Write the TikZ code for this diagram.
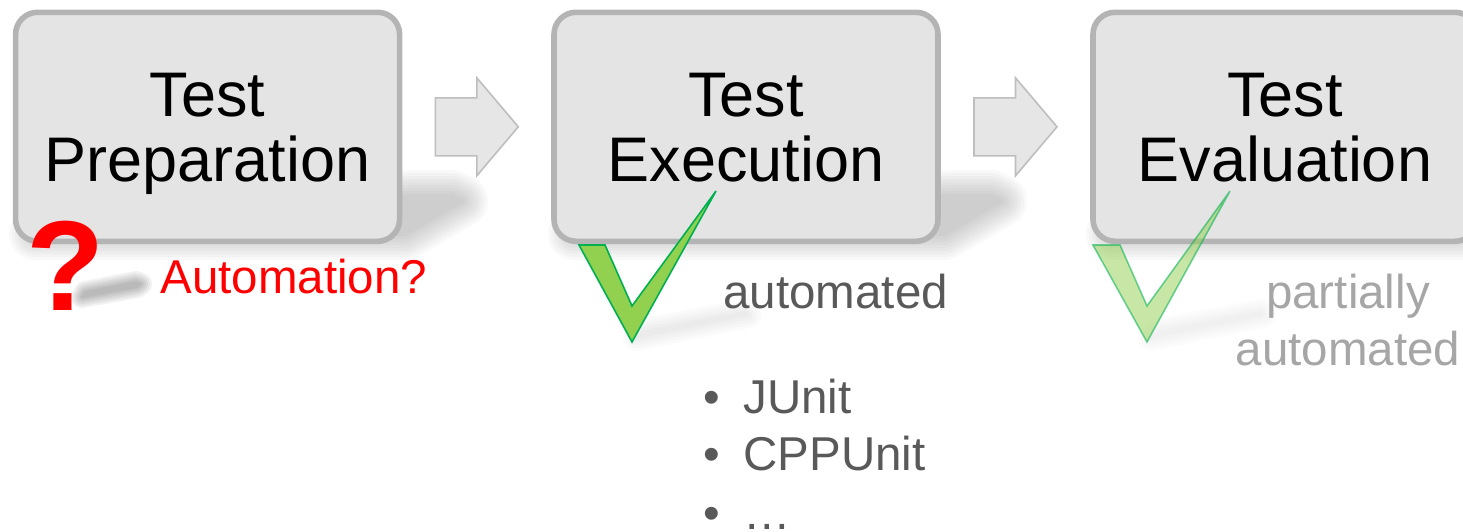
\documentclass[tikz,border=0pt]{standalone}
\usepackage{fontspec}
\setmainfont{Liberation Sans}
\usetikzlibrary{calc}

\definecolor{boxfill}{HTML}{E4E4E4}
\definecolor{boxline}{HTML}{B4B4B4}
\definecolor{arrowfill}{HTML}{E6E6E6}
\definecolor{arrowline}{HTML}{BEBEBE}
\definecolor{darktext}{HTML}{595959}
\definecolor{lighttext}{HTML}{A6A6A6}
\definecolor{checkfill}{HTML}{92D050}
\definecolor{checkline}{HTML}{00B050}

% soft cast shadow: the outline grown by several widths, each layer
% painted as one faint group so the edges fade out smoothly
\newcommand\softshadow[3][0.035]{%
  \foreach \w in {#2} {
    \begin{scope}[transparency group, opacity=#1]
      \filldraw[black, line width=\w pt, line join=round] #3;
    \end{scope}
  }%
}

\begin{document}
\begin{tikzpicture}[x=0.5pt,y=-0.5pt,
  stage/.style={draw=boxline, fill=boxfill, line width=2.8pt,
    rounded corners=11pt, minimum width=192pt, minimum height=114.5pt,
    inner sep=0pt},
  stagetext/.style={anchor=base, inner sep=0pt,
    font=\fontsize{31.5}{32}\selectfont},
  notetext/.style={inner sep=0pt, font=\fontsize{23.75}{28.5}\selectfont},
  blockarrow/.style={fill=arrowfill, draw=arrowline, line width=0.8pt,
    line join=miter},
  tick/.style={fill=checkfill, draw=checkline, line width=0.8pt,
    line join=miter}]

\useasboundingbox (0,0) rectangle (1463,531);
\clip (0,0) rectangle (1463,531);

% shadows cast by the stage boxes
\softshadow[0.022]{26,23,20,17,14,11,8,5,2}{(100,198) -- (452,196) -- (462,201) -- (405,234) -- (35,234) -- cycle}
\softshadow[0.022]{26,23,20,17,14,11,8,5,2}{(639,198) -- (991,196) -- (1001,201) -- (944,234) -- (574,234) -- cycle}
\softshadow[0.022]{26,23,20,17,14,11,8,5,2}{(1177,198) -- (1529,196) -- (1539,201) -- (1482,234) -- (1112,234) -- cycle}

% shadows of the question mark and of the ticks
\softshadow[0.05]{11,9,7,5,3,1}{(82,297) -- (85,292) -- (136,282) -- (141,284) -- (137,287) -- cycle}
\softshadow[0.016]{13,10,7,4,1}{(636,338) -- (644,331) -- (745,312) -- (748,315) -- cycle}
\softshadow[0.012]{13,10,7,4,1}{(1151,338) -- (1159,331) -- (1260,312) -- (1263,315) -- cycle}

% the three stages
\node[stage] (b1) at (207.6,126.8) {};
\node[stage] (b2) at (746,126.8) {};
\node[stage] (b3) at (1285,126.8) {};

\node[stagetext] (t1a) at (207.6,116) {Test};
\node[stagetext] (t1b) at (207.6,181) {Preparation};
\node[stagetext] (t2a) at (746,116) {Test};
\node[stagetext] (t2b) at (746,181) {Execution};
\node[stagetext] (t3a) at (1285,116) {Test};
\node[stagetext] (t3b) at (1285,181) {Evaluation};

% block arrows between the stages
\coordinate (m1) at ($(b1.east)!0.5!(b2.west)$);
\coordinate (m2) at ($(b2.east)!0.5!(b3.west)$);
\foreach \m in {m1,m2} {
  \draw[blockarrow] ($(\m)+(-41.5,-29)$) -- ($(\m)+(0,-29)$)
    -- ($(\m)+(0,-49)$) -- ($(\m)+(41.5,0)$) -- ($(\m)+(0,49)$)
    -- ($(\m)+(0,29)$) -- ($(\m)+(-41.5,29)$) -- cycle;
}

% ticks
\draw[tick] (579,245) -- (605,245) -- (632,306) -- (716,191) -- (632,342) -- cycle;
\draw[tick, fill opacity=0.5, draw opacity=0.55]
  (1093,245) -- (1120,245) -- (1147,306) -- (1230,191) -- (1147,342) -- cycle;

% question mark and notes
\node[inner sep=0pt, anchor=base, text=red,
  font=\fontsize{64}{64}\selectfont\bfseries] (qm) at (66,310) {?};
\node[notetext, anchor=base west, text=red] (auto1) at (160,293) {Automation?};
\node[notetext, anchor=base west, text=darktext] (auto2) at (723,308) {automated};
\node[notetext, text=lighttext, anchor=base] (auto3a) at (1348,308) {partially};
\node[notetext, text=lighttext, anchor=base] (auto3b) at (1348,365) {automated};

% tools list
\node[notetext, anchor=base, text=darktext] (bu1) at (712,413) {•};
\node[notetext, anchor=base west, text=darktext] (it1) at (743,413) {JUnit};
\node[notetext, anchor=base, text=darktext] (bu2) at (712,470) {•};
\node[notetext, anchor=base west, text=darktext] (it2) at (743,470) {CPPUnit};
\node[notetext, anchor=base, text=darktext] (bu3) at (712,529) {•};
\node[notetext, anchor=base west, text=darktext] (it3) at (743,529) {…};

\end{tikzpicture}
\end{document}
